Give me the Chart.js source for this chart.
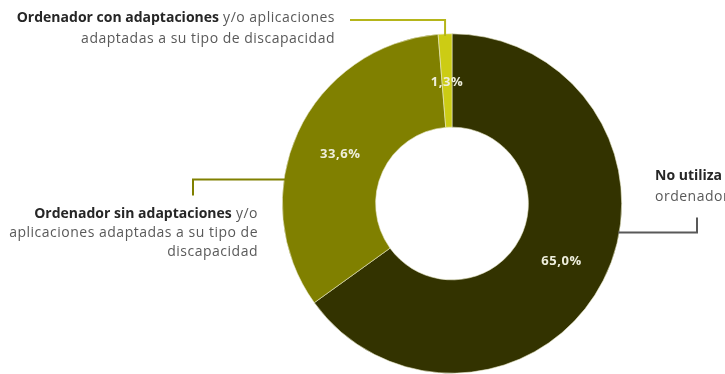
<!DOCTYPE html>
<html>
<head>
<meta charset="utf-8">
<script src="https://cdn.jsdelivr.net/npm/chart.js@4"></script>
<style>
  html, body { margin: 0; padding: 0; background: #fff; }
  #wrap { width: 725px; height: 374px; position: relative; }
</style>
</head>
<body>
<div id="wrap"><canvas id="pieChart" width="725" height="374"></canvas></div>
<script>
// data, clockwise from 12 o'clock
const categories = ['No utiliza ordenador', 'Ordenador sin adaptaciones', 'Ordenador con adaptaciones'];
const shares = [65.0, 33.6, 1.3];
const valueLabels = ['65,0%', '33,6%', '1,3%'];
const sliceColors = ['#333300', '#808000', '#cccc14'];
const lineColors = ['#595959', '#808000', '#b5b51a'];

const FONT = '"Open Sans", "Liberation Sans", sans-serif';

// draws "bold part" + "normal part" on one line, right or left aligned
function setFont(ctx, bold) {
  ctx.font = (bold ? 'bold ' : '') + '14px ' + FONT;
  ctx.letterSpacing = bold ? '0px' : '0.5px';
}

function mixedLine(ctx, parts, x, y, align) {
  let widths = parts.map(p => {
    setFont(ctx, p.bold);
    return ctx.measureText(p.t).width;
  });
  let total = widths.reduce((a, b) => a + b, 0);
  let cx = align === 'right' ? x - total : x;
  parts.forEach((p, i) => {
    setFont(ctx, p.bold);
    ctx.fillStyle = p.bold ? '#262626' : '#595959';
    ctx.textAlign = 'left';
    ctx.fillText(p.t, cx, y);
    cx += widths[i];
  });
}

const calloutPlugin = {
  id: 'callouts',
  afterDatasetsDraw(chart) {
    const ctx = chart.ctx;
    const arcs = chart.getDatasetMeta(0).data;
    ctx.save();

    // values inside the ring
    ctx.font = 'bold 13px ' + FONT;
    ctx.letterSpacing = '0.6px';
    ctx.textAlign = 'center';
    ctx.textBaseline = 'middle';
    ctx.fillStyle = '#eeeedc';
    arcs.forEach((arc, i) => {
      const p = arc.tooltipPosition();
      ctx.fillText(valueLabels[i], p.x, p.y + 2);
    });

    const a0 = arcs[0];
    const cx = a0.x, cy = a0.y, R = a0.outerRadius;
    const onRim = (ang) => ({ x: cx + R * Math.cos(ang), y: cy + R * Math.sin(ang) });
    ctx.lineWidth = 2;

    // leader for small slice (top)
    let a = arcs[2];
    let p = onRim((a.startAngle + a.endAngle) / 2);
    ctx.strokeStyle = lineColors[2];
    ctx.beginPath();
    ctx.moveTo(p.x, p.y + 2);
    ctx.lineTo(p.x, 20);
    ctx.lineTo(350, 20);
    ctx.stroke();

    // leader for olive slice (left)
    p = onRim(Math.PI + 0.142);
    ctx.strokeStyle = lineColors[1];
    ctx.beginPath();
    ctx.moveTo(p.x + 1, p.y);
    ctx.lineTo(193, p.y);
    ctx.lineTo(193, p.y + 16);
    ctx.stroke();

    // leader for dark slice (right)
    p = onRim(0.172);
    ctx.strokeStyle = lineColors[0];
    ctx.beginPath();
    ctx.moveTo(p.x - 1, p.y);
    ctx.lineTo(697, p.y);
    ctx.lineTo(697, p.y - 15);
    ctx.stroke();

    // category texts
    ctx.textBaseline = 'middle';
    mixedLine(ctx, [{ t: 'Ordenador con adaptaciones', bold: true }, { t: ' y/o aplicaciones', bold: false }], 335, 18, 'right');
    mixedLine(ctx, [{ t: 'adaptadas a su tipo de discapacidad', bold: false }], 335, 39, 'right');

    mixedLine(ctx, [{ t: 'Ordenador sin adaptaciones', bold: true }, { t: ' y/o', bold: false }], 258, 214, 'right');
    mixedLine(ctx, [{ t: 'aplicaciones adaptadas a su tipo de', bold: false }], 258, 233, 'right');
    mixedLine(ctx, [{ t: 'discapacidad', bold: false }], 258, 252, 'right');

    mixedLine(ctx, [{ t: 'No utiliza', bold: true }], 655, 176, 'left');
    mixedLine(ctx, [{ t: 'ordenador', bold: false }], 655, 197, 'left');

    ctx.restore();
  }
};

new Chart(document.getElementById('pieChart').getContext('2d'), {
  type: 'doughnut',
  data: {
    labels: categories,
    datasets: [{
      data: shares,
      backgroundColor: sliceColors,
      borderColor: '#e8e8c8',
      borderWidth: 0.6
    }]
  },
  options: {
    responsive: false,
    animation: false,
    cutout: '45%',
    layout: { padding: { left: 282, right: 103, top: 33, bottom: 0 } },
    plugins: {
      legend: { display: false },
      tooltip: { enabled: false }
    }
  },
  plugins: [calloutPlugin]
});
</script>
</body>
</html>
